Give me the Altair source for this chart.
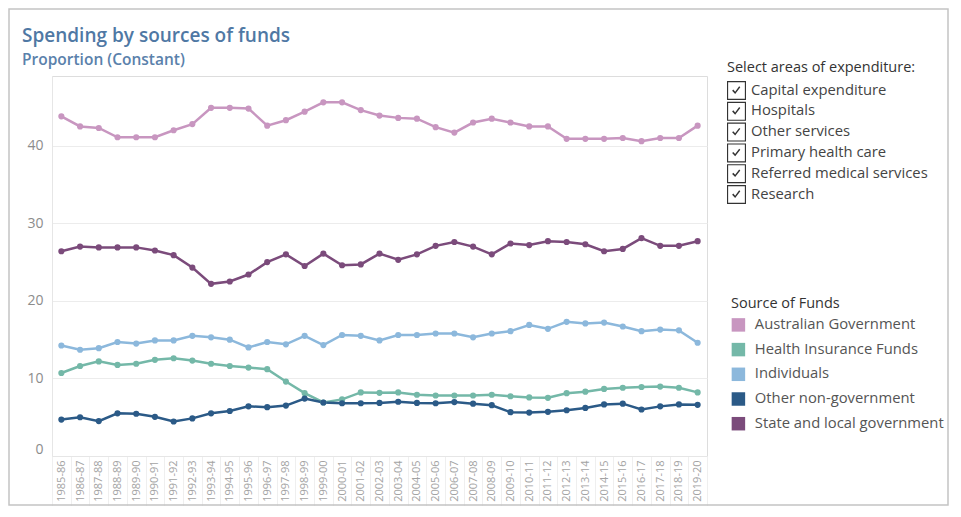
import altair as alt
import pandas as pd

years = ["1985-86", "1986-87", "1987-88", "1988-89", "1989-90", "1990-91", "1991-92",
         "1992-93", "1993-94", "1994-95", "1995-96", "1996-97", "1997-98", "1998-99",
         "1999-00", "2000-01", "2001-02", "2002-03", "2003-04", "2004-05", "2005-06",
         "2006-07", "2007-08", "2008-09", "2009-10", "2010-11", "2011-12", "2012-13",
         "2013-14", "2014-15", "2015-16", "2016-17", "2017-18", "2018-19", "2019-20"]

sources = ["Australian Government", "Health Insurance Funds", "Individuals",
           "Other non-government", "State and local government"]
colors = ["#c896c0", "#74b8a8", "#8cb8dc", "#2b5a87", "#7b4b7b"]

areas = ["Capital expenditure", "Hospitals", "Other services", "Primary health care",
         "Referred medical services", "Research"]

aus_gov = [43.8, 42.5, 42.3, 41.1, 41.1, 41.1, 42.0, 42.8, 44.9, 44.9, 44.8, 42.6, 43.3,
           44.4, 45.6, 45.6, 44.6, 43.9, 43.6, 43.5, 42.4, 41.7, 43.0, 43.5, 43.0, 42.5,
           42.5, 40.9, 40.9, 40.9, 41.0, 40.6, 41.0, 41.0, 42.6]
health_ins = [10.7, 11.6, 12.2, 11.75, 11.9, 12.4, 12.6, 12.3, 11.9, 11.6, 11.4, 11.2, 9.6,
              8.1, 6.9, 7.3, 8.2, 8.15, 8.2, 7.9, 7.8, 7.8, 7.8, 7.9, 7.7, 7.55, 7.5, 8.1,
              8.3, 8.65, 8.8, 8.9, 8.95, 8.8, 8.2]
individuals = [14.25, 13.7, 13.9, 14.7, 14.5, 14.9, 14.9, 15.5, 15.3, 15.0, 14.0, 14.7, 14.4,
               15.5, 14.3, 15.6, 15.5, 14.9, 15.6, 15.6, 15.8, 15.8, 15.3, 15.8, 16.1, 16.9,
               16.4, 17.3, 17.1, 17.2, 16.7, 16.1, 16.3, 16.2, 14.6]
other_nongov = [4.7, 5.0, 4.5, 5.5, 5.45, 5.05, 4.45, 4.85, 5.5, 5.8, 6.4, 6.3, 6.5, 7.4, 6.9,
                6.8, 6.8, 6.85, 7.0, 6.85, 6.8, 6.95, 6.75, 6.55, 5.65, 5.6, 5.7, 5.9, 6.2,
                6.65, 6.75, 6.0, 6.4, 6.65, 6.6]
state_local = [26.4, 27.0, 26.9, 26.9, 26.9, 26.5, 25.9, 24.3, 22.2, 22.5, 23.4, 25.0, 26.0,
               24.5, 26.1, 24.6, 24.7, 26.1, 25.3, 26.0, 27.1, 27.6, 27.0, 26.0, 27.4, 27.2,
               27.7, 27.6, 27.3, 26.4, 26.7, 28.1, 27.1, 27.1, 27.7]

rows = []
for s, vals in zip(sources, [aus_gov, health_ins, individuals, other_nongov, state_local]):
    for yr, v in zip(years, vals):
        rows.append({"year": yr, "source": s, "value": v})
df = pd.DataFrame(rows)

FONT = "Open Sans"
CHECK = ("M-1,-1H1V1H-1Z M-0.88,-0.88V0.88H0.88V-0.88Z "
         "M-0.46,0.02L-0.14,0.36L0.4,-0.34L0.28,-0.44L-0.14,0.12L-0.34,-0.1Z")

x_enc = alt.X(
    "year:O", sort=years, bandPosition=0.5,
    scale=alt.Scale(type="band", paddingInner=0, paddingOuter=0),
    axis=alt.Axis(title=None, labelAngle=-90, labelFontSize=11, labelColor="#a3a3a3",
                  labelFont=FONT, labelPadding=-48, ticks=True, tickBand="extent",
                  tickSize=52, tickColor="#efefef", domainColor="#e6e6e6"),
)
y_enc = alt.Y(
    "value:Q", scale=alt.Scale(domain=[0, 49], nice=False, zero=True),
    axis=alt.Axis(title=None, values=[0, 10, 20, 30, 40], grid=True, gridColor="#ececec",
                  ticks=False, domainColor="#e6e6e6", labelFontSize=14,
                  labelColor="#8c8c8c", labelFont=FONT, labelPadding=9, labelFlush=True),
)

color_scale = alt.Scale(domain=sources, range=colors)

frame = alt.Chart(alt.Data(values=[{}])).mark_rect(
    fill="transparent", stroke="#c4c4c4", strokeWidth=1.5
).encode(x=alt.value(-43), x2=alt.value(896), y=alt.value(-67), y2=alt.value(429))

lines = alt.Chart(df).mark_line(strokeWidth=2.5).encode(
    x=x_enc, y=y_enc,
    stroke=alt.Stroke("source:N", scale=color_scale, legend=None),
)

points = alt.Chart(df).mark_circle(size=38, opacity=1).encode(
    x=x_enc, y=y_enc,
    fill=alt.Fill("source:N", scale=color_scale,
                  legend=alt.Legend(title="Source of Funds", orient="none",
                                    legendX=679, legendY=221, symbolType="square",
                                    symbolSize=182, symbolStrokeWidth=0, padding=0,
                                    labelFont=FONT, titleFont=FONT, labelFontSize=14.8,
                                    titleFontSize=14.5, labelColor="#555555",
                                    titleColor="#333333", titleFontWeight="normal",
                                    labelOffset=9, rowPadding=8.7, titlePadding=6,
                                    labelLimit=260, titleLimit=300)),
)

checks = alt.Chart(pd.DataFrame({"area": areas})).mark_point(
    filled=True, color="#333333", strokeWidth=0
).encode(
    x=alt.value(-3000), y=alt.value(200),
    shape=alt.Shape("area:N", sort=areas,
                    scale=alt.Scale(domain=areas, range=[CHECK] * len(areas)),
                    legend=alt.Legend(title="Select areas of expenditure:", orient="none",
                                      legendX=675, legendY=-15.5, symbolSize=361,
                                      symbolFillColor="#333333", symbolStrokeWidth=0,
                                      symbolOpacity=1, padding=0, labelFont=FONT,
                                      titleFont=FONT, labelFontSize=14.8, titleFontSize=14.5,
                                      labelColor="#444444", titleColor="#333333",
                                      titleFontWeight="normal", labelOffset=5,
                                      rowPadding=1.8, titlePadding=6, labelLimit=260,
                                      titleLimit=300)),
)

chart = alt.layer(frame, lines, points, checks).properties(
    width=655, height=380,
    padding={"left": 44, "top": 68, "right": 245, "bottom": 50},
    autosize=alt.AutoSizeParams(type="none"),
    title=alt.TitleParams(
        "Spending by sources of funds", subtitle="Proportion (Constant)",
        anchor="start", frame="group", dx=-30, dy=70, offset=10,
        font=FONT, fontSize=19, fontWeight=600, color="#4f78a4",
        subtitleFont=FONT, subtitleFontSize=15.5, subtitleFontWeight=600,
        subtitleColor="#5a81ab", subtitlePadding=7,
    ),
).resolve_scale(fill="independent", stroke="independent", shape="independent").configure_view(stroke=None).configure(background="white")

chart.save("out.html", embed_options={"renderer": "svg", "actions": False})
